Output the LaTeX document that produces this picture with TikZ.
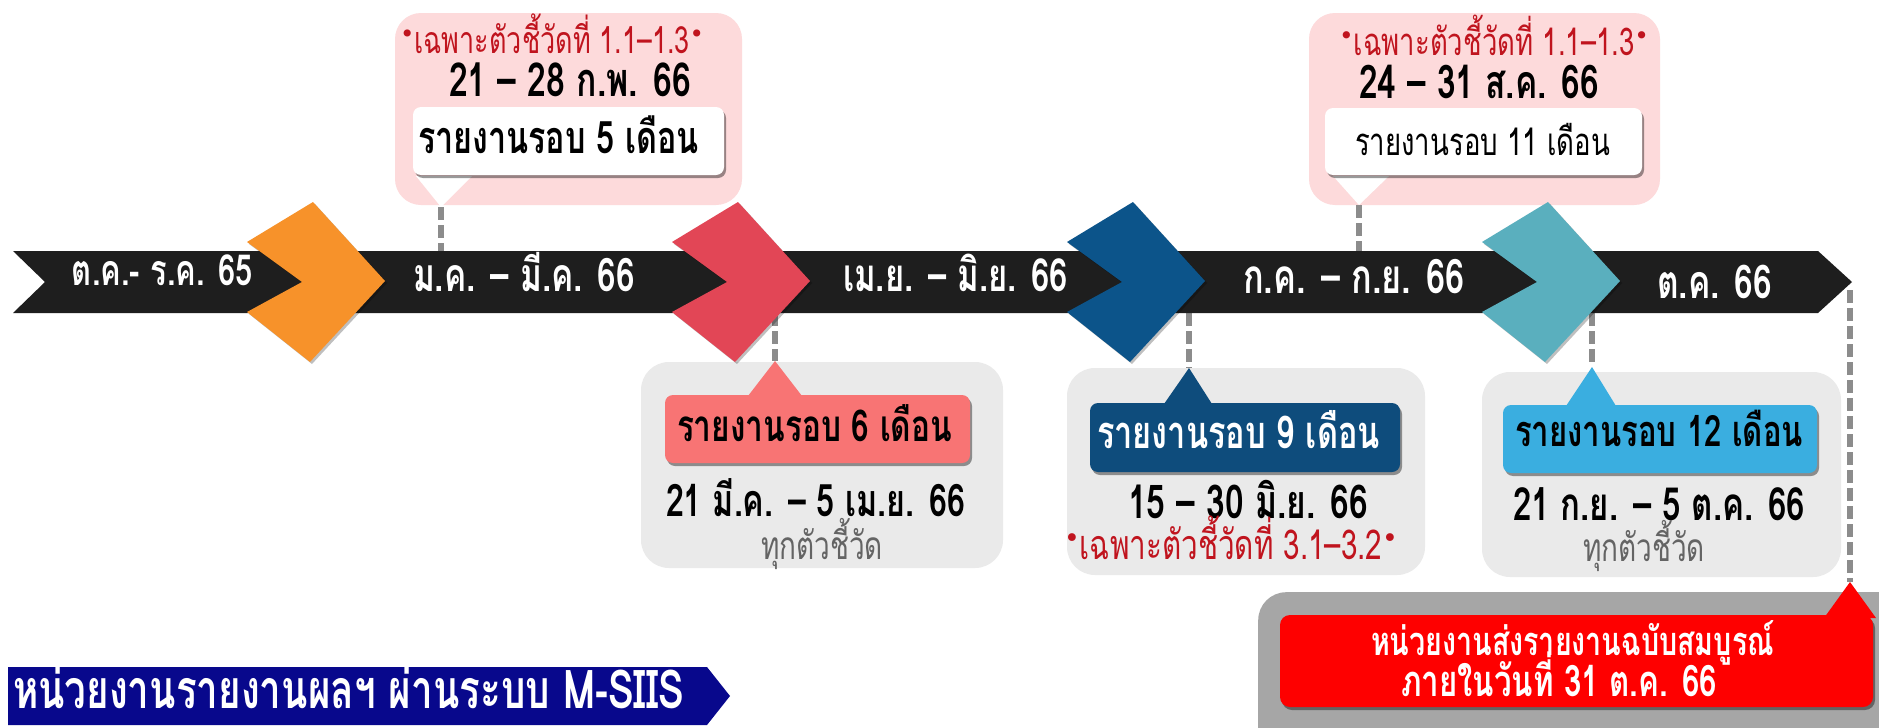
\documentclass[tikz,border=0pt]{standalone}
\usepackage{fontspec}
\usetikzlibrary{shadows}
\newfontfamily\thf[Script=Thai,FakeStretch=0.72]{Loma}
\newfontfamily\dvf{DejaVu Sans}
\newcommand\fw[2]{\resizebox{#1pt}{!}{#2}}
\newcommand\bul{\raisebox{0.28em}{\dvf\fontsize{26}{26}\selectfont •}}
\definecolor{bandc}{RGB}{30,30,30}
\definecolor{orangec}{RGB}{247,146,42}
\definecolor{redc}{RGB}{226,70,86}
\definecolor{bluec}{RGB}{12,84,138}
\definecolor{tealc}{RGB}{90,175,190}
\definecolor{pinkc}{RGB}{253,218,219}
\definecolor{grayc}{RGB}{234,234,234}
\definecolor{salmonc}{RGB}{248,116,116}
\definecolor{lblbluec}{RGB}{14,76,124}
\definecolor{skyc}{RGB}{58,174,224}
\definecolor{brightred}{RGB}{254,0,0}
\definecolor{biggray}{RGB}{166,166,166}
\definecolor{navyc}{RGB}{8,8,140}
\definecolor{notered}{RGB}{192,20,30}
\definecolor{softgray}{RGB}{100,100,100}
\definecolor{dashc}{RGB}{140,140,140}
\tikzset{
  txt/.style={inner sep=0pt, anchor=base, font=\thf\fontsize{40}{48}\selectfont},
  boxbase/.style={inner sep=0pt, draw=none},
  pinkbox/.style={boxbase, fill=pinkc, rounded corners=26pt},
  graybox/.style={boxbase, fill=grayc, rounded corners=28pt},
  shad/.style={drop shadow={shadow xshift=2pt, shadow yshift=-3pt, opacity=0.4, fill=black}},
  whitebox/.style={boxbase, fill=white, rounded corners=8pt, shad},
  lblbox/.style={boxbase, rounded corners=8pt, shad},
  chevshad/.style={drop shadow={shadow xshift=2pt, shadow yshift=-2pt, opacity=0.25, fill=black}},
  dashline/.style={draw=dashc, line width=6pt, dash pattern=on 13pt off 5pt},
}
\begin{document}
\begin{tikzpicture}[x=1pt,y=-1pt]
\useasboundingbox (0,0) rectangle (1879,728);
\clip (0,0) rectangle (1879,728);
\fill[white] (0,0) rectangle (1879,728);

% callout backgrounds
\node[pinkbox, minimum width=347pt, minimum height=192pt] (p1) at (568.5,109) {};
\node[pinkbox, minimum width=351pt, minimum height=192pt] (p2) at (1484.5,109) {};
\node[graybox, minimum width=362pt, minimum height=206pt] (g1) at (822,465) {};
\node[graybox, minimum width=358pt, minimum height=207pt] (g2) at (1246,471.5) {};
\node[graybox, minimum width=359pt, minimum height=205pt] (g3) at (1661.5,474.5) {};
\node[boxbase, fill=biggray, rounded corners=28pt, minimum width=700pt, minimum height=220pt, anchor=north west] (bg) at (1258,592) {};

% pointer apexes and band attachment points
\coordinate (a1) at (441,207);  \coordinate (s1) at (441,251);
\coordinate (a2) at (1359,205); \coordinate (s2) at (1359,251);
\coordinate (a3) at (775,361);  \coordinate (s3) at (775,313);
\coordinate (a4) at (1189,368); \coordinate (s4) at (1189,313);
\coordinate (a5) at (1592,367); \coordinate (s5) at (1592,313);
\coordinate (a6) at (1850,582); \coordinate (s6) at (1850,290);

% dashed connectors
\draw[dashline] (a1) -- (s1);
\draw[dashline] (a2) -- (s2);
\draw[dashline] (s3) -- (a3);
\draw[dashline] (s4) -- (a4);
\draw[dashline] (s5) -- (a5);
\draw[dashline] (s6) -- (a6);

% pointer triangles
\fill[white] (416,176) -- (472,176) -- (a1) -- cycle;
\fill[white] (1333,176) -- (1389,176) -- (a2) -- cycle;
\fill[salmonc] (748,396) -- (802,396) -- (a3) -- cycle;
\fill[lblbluec] (1164,404) -- (1212,404) -- (a4) -- cycle;
\fill[skyc] (1566,406) -- (1616,406) -- (a5) -- cycle;
\fill[brightred] (1824,618) -- (1876,618) -- (a6) -- cycle;

% inner boxes
\node[whitebox, minimum width=311pt, minimum height=68pt] (w1) at (568.5,141) {};
\node[whitebox, minimum width=317pt, minimum height=67pt] (w2) at (1483.5,141.5) {};
\node[lblbox, fill=salmonc, minimum width=305pt, minimum height=68pt] (l1) at (817.5,429) {};
\node[lblbox, fill=lblbluec, minimum width=310pt, minimum height=69pt] (l2) at (1245,437.5) {};
\node[lblbox, fill=skyc, minimum width=314pt, minimum height=68pt] (l3) at (1660,439) {};
\node[lblbox, fill=brightred, rounded corners=10pt, minimum width=593pt, minimum height=92pt] (rb) at (1576.5,661) {};

% black band
\fill[bandc] (13,251) -- (1818,251) -- (1852,282) -- (1818,313) -- (13,313) -- (45,282) -- cycle;

% chevrons
\foreach \L/\c in {247/orangec, 672/redc, 1067/bluec, 1482/tealc}{
  \begin{scope}[shift={(\L,0)}]
    \fill[\c, chevshad] (66,202) -- (138,281) -- (63,362) -- (0,312) -- (55,282) -- (0,242) -- cycle;
  \end{scope}
}

% navy banner
\fill[navyc] (8,667) -- (707,667) -- (730,696) -- (707,725) -- (8,725) -- cycle;

% band texts
\node[txt, text=white] (t1) at (162.5,285) {\fw{181}{\bfseries ต.ค.- ร.ค. 65}};
\node[txt, text=white] (t2) at (524,291) {\fw{222}{\bfseries ม.ค. – มี.ค. 66}};
\node[txt, text=white] (t3) at (955.5,291) {\fw{225}{\bfseries เม.ย. – มิ.ย. 66}};
\node[txt, text=white] (t4) at (1354,293) {\fw{222}{\bfseries ก.ค. – ก.ย. 66}};
\node[txt, text=white] (t5) at (1714.5,298) {\fw{115}{\bfseries ต.ค. 66}};

% pink callout 1
\node[txt, text=notered] (r1) at (552,53) {\fw{304}{\bul เฉพาะตัวชี้วัดที่ 1.1–1.3\bul}};
\node[txt, text=black] (d1) at (570,96) {\fw{242}{\bfseries 21 – 28 ก.พ. 66}};
\node[txt, text=black] (x1) at (558.5,153) {\fw{281}{\bfseries รายงานรอบ 5 เดือน}};
% pink callout 2
\node[txt, text=notered] (r2) at (1494,55) {\fw{310}{\bul เฉพาะตัวชี้วัดที่ 1.1–1.3\bul}};
\node[txt, text=black] (d2) at (1479,98) {\fw{240}{\bfseries 24 – 31 ส.ค. 66}};
\node[txt, text=black] (x2) at (1482.5,155) {\fw{255}{รายงานรอบ 11 เดือน}};
% gray callout 1
\node[txt, text=black] (x3) at (814.5,441) {\fw{275}{\bfseries รายงานรอบ 6 เดือน}};
\node[txt, text=black] (d3) at (815.5,516) {\fw{299}{\bfseries 21 มี.ค. – 5 เม.ย. 66}};
\node[txt, text=softgray] (n3) at (822,559) {\fw{122}{ทุกตัวชี้วัด}};
% gray callout 2
\node[txt, text=white] (x4) at (1238.5,448) {\fw{283}{\bfseries รายงานรอบ 9 เดือน}};
\node[txt, text=black] (d4) at (1248,518) {\fw{240}{\bfseries 15 – 30 มิ.ย. 66}};
\node[txt, text=notered] (r4) at (1231,559) {\fw{334}{\bul เฉพาะตัวชี้วัดที่ 3.1–3.2\bul}};
% gray callout 3
\node[txt, text=black] (x5) at (1659,446) {\fw{288}{\bfseries รายงานรอบ 12 เดือน}};
\node[txt, text=black] (d5) at (1659,520) {\fw{292}{\bfseries 21 ก.ย. – 5 ต.ค. 66}};
\node[txt, text=softgray] (n5) at (1644,561) {\fw{122}{ทุกตัวชี้วัด}};
% final red box
\node[txt, text=white] (f1) at (1572.5,655) {\fw{403}{\bfseries หน่วยงานส่งรายงานฉบับสมบูรณ์}};
\node[txt, text=white] (f2) at (1559,696) {\fw{316}{\bfseries ภายในวันที่ 31 ต.ค. 66}};
% navy banner text
\node[txt, text=white] (nb) at (348.5,708) {\fw{671}{\bfseries หน่วยงานรายงานผลฯ ผ่านระบบ M-SIIS}};
\end{tikzpicture}
\end{document}
